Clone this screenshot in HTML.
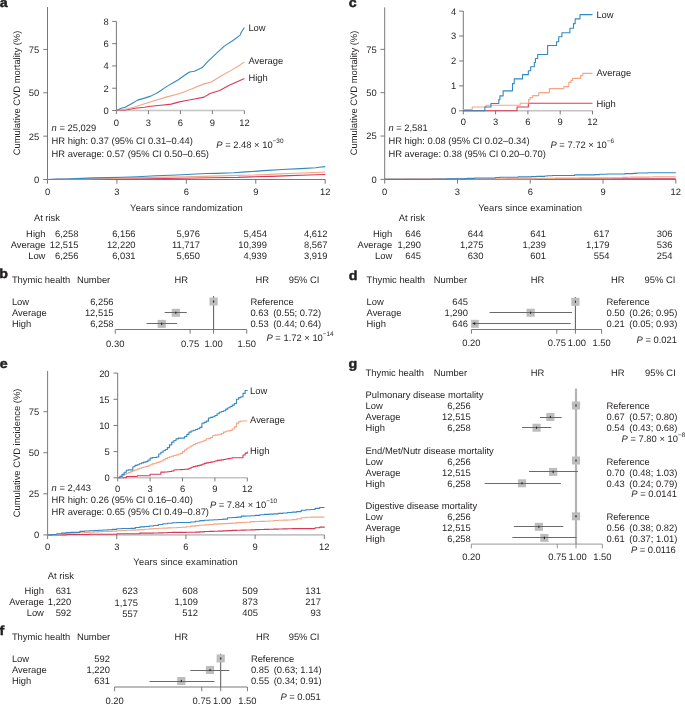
<!DOCTYPE html>
<html><head><meta charset="utf-8"><style>
html,body{margin:0;padding:0;background:#fff;}
svg{display:block;will-change:transform;}
text{white-space:pre;text-rendering:geometricPrecision;font-family:"Liberation Sans",sans-serif;font-size:9.4px;fill:#231f20;}
</style></head><body>
<svg width="685" height="705" viewBox="0 0 685 705">
<text transform="translate(-0.30,7.20) scale(1.08,1)" font-weight="bold" style="font-size:13.2px;stroke:#231f20;stroke-width:0.45px">a</text>
<line x1="47.50" y1="7.00" x2="47.50" y2="179.50" stroke="#6a6a6a" stroke-width="0.9"/>
<line x1="47.50" y1="179.50" x2="325.20" y2="179.50" stroke="#6a6a6a" stroke-width="0.9"/>
<line x1="43.30" y1="179.50" x2="47.50" y2="179.50" stroke="#6a6a6a" stroke-width="0.9"/>
<text x="39.20" y="182.90" text-anchor="end">0</text>
<line x1="43.30" y1="136.15" x2="47.50" y2="136.15" stroke="#6a6a6a" stroke-width="0.9"/>
<text x="39.20" y="139.55" text-anchor="end">25</text>
<line x1="43.30" y1="92.80" x2="47.50" y2="92.80" stroke="#6a6a6a" stroke-width="0.9"/>
<text x="39.20" y="96.20" text-anchor="end">50</text>
<line x1="43.30" y1="49.45" x2="47.50" y2="49.45" stroke="#6a6a6a" stroke-width="0.9"/>
<text x="39.20" y="52.85" text-anchor="end">75</text>
<line x1="47.50" y1="179.50" x2="47.50" y2="183.70" stroke="#6a6a6a" stroke-width="0.9"/>
<text x="47.50" y="195.00" text-anchor="middle">0</text>
<line x1="116.92" y1="179.50" x2="116.92" y2="183.70" stroke="#6a6a6a" stroke-width="0.9"/>
<text x="116.92" y="195.00" text-anchor="middle">3</text>
<line x1="186.35" y1="179.50" x2="186.35" y2="183.70" stroke="#6a6a6a" stroke-width="0.9"/>
<text x="186.35" y="195.00" text-anchor="middle">6</text>
<line x1="255.77" y1="179.50" x2="255.77" y2="183.70" stroke="#6a6a6a" stroke-width="0.9"/>
<text x="255.77" y="195.00" text-anchor="middle">9</text>
<line x1="325.20" y1="179.50" x2="325.20" y2="183.70" stroke="#6a6a6a" stroke-width="0.9"/>
<text x="325.20" y="195.00" text-anchor="middle">12</text>
<text x="0" y="0" text-anchor="middle" transform="translate(20.30,93.00) rotate(-90)">Cumulative CVD mortality (%)</text>
<text x="186.40" y="211.00" text-anchor="middle" textLength="112.6" lengthAdjust="spacing">Years since randomization</text>
<line x1="116.40" y1="110.50" x2="244.40" y2="110.50" stroke="#c4c4c4" stroke-width="1.6"/>
<line x1="116.40" y1="21.40" x2="116.40" y2="110.50" stroke="#6a6a6a" stroke-width="0.9"/>
<line x1="112.20" y1="110.50" x2="116.40" y2="110.50" stroke="#6a6a6a" stroke-width="0.9"/>
<text x="108.70" y="113.90" text-anchor="end">0</text>
<line x1="112.20" y1="88.22" x2="116.40" y2="88.22" stroke="#6a6a6a" stroke-width="0.9"/>
<text x="108.70" y="91.62" text-anchor="end">2</text>
<line x1="112.20" y1="65.94" x2="116.40" y2="65.94" stroke="#6a6a6a" stroke-width="0.9"/>
<text x="108.70" y="69.34" text-anchor="end">4</text>
<line x1="112.20" y1="43.66" x2="116.40" y2="43.66" stroke="#6a6a6a" stroke-width="0.9"/>
<text x="108.70" y="47.06" text-anchor="end">6</text>
<line x1="112.20" y1="21.38" x2="116.40" y2="21.38" stroke="#6a6a6a" stroke-width="0.9"/>
<text x="108.70" y="24.78" text-anchor="end">8</text>
<line x1="116.40" y1="110.50" x2="116.40" y2="114.10" stroke="#6a6a6a" stroke-width="0.9"/>
<text x="116.40" y="126.00" text-anchor="middle">0</text>
<line x1="148.40" y1="110.50" x2="148.40" y2="114.10" stroke="#6a6a6a" stroke-width="0.9"/>
<text x="148.40" y="126.00" text-anchor="middle">3</text>
<line x1="180.40" y1="110.50" x2="180.40" y2="114.10" stroke="#6a6a6a" stroke-width="0.9"/>
<text x="180.40" y="126.00" text-anchor="middle">6</text>
<line x1="212.40" y1="110.50" x2="212.40" y2="114.10" stroke="#6a6a6a" stroke-width="0.9"/>
<text x="212.40" y="126.00" text-anchor="middle">9</text>
<line x1="244.40" y1="110.50" x2="244.40" y2="114.10" stroke="#6a6a6a" stroke-width="0.9"/>
<text x="244.40" y="126.00" text-anchor="middle">12</text>
<path d="M47.50,179.50 L66.71,179.41 L88.69,179.15 L108.59,179.00 L122.02,178.84 L144.23,178.69 L166.45,178.51 L181.95,178.20 L196.30,177.97 L211.57,177.78 L237.72,177.42 L250.68,176.85 L271.74,176.38 L290.02,175.63 L308.31,175.06 L325.20,174.51" fill="none" stroke="#d63a58" stroke-width="1.1" stroke-linejoin="round"/>
<path d="M116.40,110.50 L125.25,109.94 L135.39,108.27 L144.56,107.27 L150.75,106.27 L160.99,105.26 L171.23,104.15 L178.37,102.14 L184.99,100.70 L192.03,99.47 L204.08,97.13 L210.05,93.46 L219.76,90.45 L228.19,85.66 L236.61,81.98 L244.40,78.42" fill="none" stroke="#d63a58" stroke-width="1.1" stroke-linejoin="round"/>
<path d="M47.50,179.50 L68.33,179.29 L88.69,178.93 L122.02,178.13 L155.34,177.42 L185.42,176.85 L211.57,176.10 L237.72,175.36 L253.46,175.06 L274.52,174.12 L295.35,173.29 L314.79,172.44 L325.20,171.94" fill="none" stroke="#f4a582" stroke-width="1.1" stroke-linejoin="round"/>
<path d="M116.40,110.50 L126.00,109.16 L135.39,106.82 L150.75,101.70 L166.11,97.13 L179.97,93.46 L192.03,88.67 L204.08,83.88 L211.33,81.98 L221.04,75.97 L230.64,70.62 L239.60,65.16 L244.40,61.93" fill="none" stroke="#f4a582" stroke-width="1.1" stroke-linejoin="round"/>
<path d="M47.50,179.50 L57.68,179.15 L66.71,179.00 L82.21,178.36 L93.32,177.89 L108.59,177.58 L122.02,177.26 L137.52,176.69 L155.34,175.82 L170.61,175.18 L181.95,174.71 L196.30,173.99 L206.25,173.50 L216.90,173.38 L233.79,172.82 L245.59,171.89 L263.87,170.66 L282.16,169.44 L300.44,168.61 L315.94,167.76 L318.72,167.28 L325.20,166.58" fill="none" stroke="#3388c2" stroke-width="1.1" stroke-linejoin="round"/>
<path d="M116.40,110.50 L121.09,108.27 L125.25,107.27 L132.40,103.15 L137.52,100.14 L144.56,98.13 L150.75,96.13 L157.89,92.45 L166.11,86.88 L173.15,82.76 L178.37,79.75 L184.99,75.07 L189.57,71.96 L194.48,71.18 L202.27,67.61 L207.71,61.60 L216.13,53.69 L224.56,45.89 L232.99,40.54 L240.13,35.08 L241.41,31.96 L244.40,27.51" fill="none" stroke="#3388c2" stroke-width="1.1" stroke-linejoin="round"/>
<text x="248.40" y="31.00">Low</text>
<text x="248.40" y="64.00">Average</text>
<text x="248.40" y="81.00">High</text>
<text x="51.60" y="131.00"><tspan font-style="italic">n</tspan> = 25,029</text>
<text x="51.60" y="144.00">HR high: 0.37 (95% CI 0.31–0.44)</text>
<text x="51.60" y="157.00">HR average: 0.57 (95% CI 0.50–0.65)</text>
<text x="216.30" y="148.00"><tspan font-style="italic">P</tspan> = 2.48 × 10<tspan dy="-4.6" font-size="6.4">−30</tspan></text>
<text x="33.90" y="221.00">At risk</text>
<text x="45.40" y="237.00" text-anchor="end">High</text>
<text x="78.40" y="237.00" text-anchor="end">6,258</text>
<text x="135.60" y="237.00" text-anchor="end">6,156</text>
<text x="200.00" y="237.00" text-anchor="end">5,976</text>
<text x="267.00" y="237.00" text-anchor="end">5,454</text>
<text x="327.50" y="237.00" text-anchor="end">4,612</text>
<text x="45.40" y="248.00" text-anchor="end">Average</text>
<text x="78.40" y="248.00" text-anchor="end">12,515</text>
<text x="135.60" y="248.00" text-anchor="end">12,220</text>
<text x="200.00" y="248.00" text-anchor="end">11,717</text>
<text x="267.00" y="248.00" text-anchor="end">10,399</text>
<text x="327.50" y="248.00" text-anchor="end">8,567</text>
<text x="45.40" y="259.00" text-anchor="end">Low</text>
<text x="78.40" y="259.00" text-anchor="end">6,256</text>
<text x="135.60" y="259.00" text-anchor="end">6,031</text>
<text x="200.00" y="259.00" text-anchor="end">5,650</text>
<text x="267.00" y="259.00" text-anchor="end">4,939</text>
<text x="327.50" y="259.00" text-anchor="end">3,919</text>
<text transform="translate(348.80,6.80) scale(1.08,1)" font-weight="bold" style="font-size:13.2px;stroke:#231f20;stroke-width:0.45px">c</text>
<line x1="384.70" y1="7.40" x2="384.70" y2="179.40" stroke="#6a6a6a" stroke-width="0.9"/>
<line x1="384.70" y1="179.40" x2="675.80" y2="179.40" stroke="#6a6a6a" stroke-width="0.9"/>
<line x1="380.50" y1="179.40" x2="384.70" y2="179.40" stroke="#6a6a6a" stroke-width="0.9"/>
<text x="376.80" y="182.80" text-anchor="end">0</text>
<line x1="380.50" y1="136.05" x2="384.70" y2="136.05" stroke="#6a6a6a" stroke-width="0.9"/>
<text x="376.80" y="139.45" text-anchor="end">25</text>
<line x1="380.50" y1="92.70" x2="384.70" y2="92.70" stroke="#6a6a6a" stroke-width="0.9"/>
<text x="376.80" y="96.10" text-anchor="end">50</text>
<line x1="380.50" y1="49.35" x2="384.70" y2="49.35" stroke="#6a6a6a" stroke-width="0.9"/>
<text x="376.80" y="52.75" text-anchor="end">75</text>
<line x1="384.70" y1="179.40" x2="384.70" y2="183.60" stroke="#6a6a6a" stroke-width="0.9"/>
<text x="384.70" y="195.00" text-anchor="middle">0</text>
<line x1="457.47" y1="179.40" x2="457.47" y2="183.60" stroke="#6a6a6a" stroke-width="0.9"/>
<text x="457.47" y="195.00" text-anchor="middle">3</text>
<line x1="530.25" y1="179.40" x2="530.25" y2="183.60" stroke="#6a6a6a" stroke-width="0.9"/>
<text x="530.25" y="195.00" text-anchor="middle">6</text>
<line x1="603.02" y1="179.40" x2="603.02" y2="183.60" stroke="#6a6a6a" stroke-width="0.9"/>
<text x="603.02" y="195.00" text-anchor="middle">9</text>
<line x1="675.80" y1="179.40" x2="675.80" y2="183.60" stroke="#6a6a6a" stroke-width="0.9"/>
<text x="675.80" y="195.00" text-anchor="middle">12</text>
<text x="0" y="0" text-anchor="middle" transform="translate(356.60,93.00) rotate(-90)">Cumulative CVD mortality (%)</text>
<text x="530.10" y="211.00" text-anchor="middle" textLength="103.7" lengthAdjust="spacing">Years since examination</text>
<line x1="463.30" y1="110.80" x2="592.50" y2="110.80" stroke="#c4c4c4" stroke-width="1.6"/>
<line x1="463.30" y1="11.00" x2="463.30" y2="110.80" stroke="#6a6a6a" stroke-width="0.9"/>
<line x1="459.10" y1="110.80" x2="463.30" y2="110.80" stroke="#6a6a6a" stroke-width="0.9"/>
<text x="456.30" y="114.20" text-anchor="end">0</text>
<line x1="459.10" y1="85.88" x2="463.30" y2="85.88" stroke="#6a6a6a" stroke-width="0.9"/>
<text x="456.30" y="89.28" text-anchor="end">1</text>
<line x1="459.10" y1="60.96" x2="463.30" y2="60.96" stroke="#6a6a6a" stroke-width="0.9"/>
<text x="456.30" y="64.36" text-anchor="end">2</text>
<line x1="459.10" y1="36.04" x2="463.30" y2="36.04" stroke="#6a6a6a" stroke-width="0.9"/>
<text x="456.30" y="39.44" text-anchor="end">3</text>
<line x1="459.10" y1="11.12" x2="463.30" y2="11.12" stroke="#6a6a6a" stroke-width="0.9"/>
<text x="456.30" y="14.52" text-anchor="end">4</text>
<line x1="463.30" y1="110.80" x2="463.30" y2="114.40" stroke="#6a6a6a" stroke-width="0.9"/>
<text x="463.30" y="124.80" text-anchor="middle">0</text>
<line x1="495.60" y1="110.80" x2="495.60" y2="114.40" stroke="#6a6a6a" stroke-width="0.9"/>
<text x="495.60" y="124.80" text-anchor="middle">3</text>
<line x1="527.90" y1="110.80" x2="527.90" y2="114.40" stroke="#6a6a6a" stroke-width="0.9"/>
<text x="527.90" y="124.80" text-anchor="middle">6</text>
<line x1="560.20" y1="110.80" x2="560.20" y2="114.40" stroke="#6a6a6a" stroke-width="0.9"/>
<text x="560.20" y="124.80" text-anchor="middle">9</text>
<line x1="592.50" y1="110.80" x2="592.50" y2="114.40" stroke="#6a6a6a" stroke-width="0.9"/>
<text x="592.50" y="124.80" text-anchor="middle">12</text>
<path d="M384.70,179.40 L505.75,179.40 L505.75,179.14 L531.22,179.14 L531.22,178.88 L675.80,178.88" fill="none" stroke="#d63a58" stroke-width="1.1" stroke-linejoin="round"/>
<path d="M463.30,110.80 L517.03,110.80 L517.03,107.06 L528.33,107.06 L528.33,103.32 L592.50,103.32" fill="none" stroke="#d63a58" stroke-width="1.1" stroke-linejoin="round"/>
<path d="M384.70,179.31 L404.83,179.31 L404.83,179.14 L436.37,179.14 L436.37,179.02 L512.78,179.02 L512.78,178.88 L531.71,178.88 L531.71,178.62 L535.10,178.62 L535.10,178.48 L540.92,178.48 L540.92,178.34 L554.75,178.34 L554.75,178.13 L578.77,178.13 L578.77,177.86 L611.03,177.86 L611.03,177.72 L622.43,177.72 L622.43,177.42 L627.28,177.42 L627.28,177.28 L630.68,177.28 L630.68,177.15 L649.12,177.15 L649.12,176.96 L653.72,176.96 L653.72,176.80 L675.80,176.80" fill="none" stroke="#f4a582" stroke-width="1.1" stroke-linejoin="round"/>
<path d="M463.30,109.55 L472.24,109.55 L472.24,107.06 L486.23,107.06 L486.23,105.32 L520.15,105.32 L520.15,103.32 L528.55,103.32 L528.55,99.59 L530.05,99.59 L530.05,97.59 L532.64,97.59 L532.64,95.60 L538.77,95.60 L538.77,92.61 L549.43,92.61 L549.43,88.62 L563.75,88.62 L563.75,86.63 L568.81,86.63 L568.81,82.39 L570.97,82.39 L570.97,80.40 L572.47,80.40 L572.47,78.40 L580.66,78.40 L580.66,75.66 L582.70,75.66 L582.70,73.42 L592.50,73.42" fill="none" stroke="#f4a582" stroke-width="1.1" stroke-linejoin="round"/>
<path d="M384.70,179.40 L433.22,179.40 L433.22,179.14 L447.04,179.14 L447.04,178.90 L464.75,178.90 L464.75,178.62 L467.18,178.62 L467.18,178.36 L474.46,178.36 L474.46,178.01 L495.56,178.01 L495.56,177.51 L499.44,177.51 L499.44,177.18 L518.12,177.18 L518.12,176.89 L531.22,176.89 L531.22,176.61 L536.56,176.61 L536.56,176.33 L544.80,176.33 L544.80,176.04 L547.23,176.04 L547.23,175.76 L552.33,175.76 L552.33,175.48 L574.64,175.48 L574.64,174.86 L594.78,174.86 L594.78,174.60 L599.63,174.60 L599.63,174.25 L606.91,174.25 L606.91,173.97 L624.86,173.97 L624.86,173.66 L633.11,173.66 L633.11,173.33 L636.74,173.33 L636.74,173.00 L647.66,173.00 L647.66,172.71 L675.80,172.71" fill="none" stroke="#3388c2" stroke-width="1.1" stroke-linejoin="round"/>
<path d="M463.30,110.80 L484.83,110.80 L484.83,107.06 L490.97,107.06 L490.97,103.57 L498.83,103.57 L498.83,99.59 L499.91,99.59 L499.91,95.85 L503.14,95.85 L503.14,90.86 L512.50,90.86 L512.50,83.64 L514.23,83.64 L514.23,78.90 L522.52,78.90 L522.52,74.67 L528.33,74.67 L528.33,70.68 L530.70,70.68 L530.70,66.69 L534.36,66.69 L534.36,62.46 L535.44,62.46 L535.44,58.47 L537.70,58.47 L537.70,54.48 L547.60,54.48 L547.60,45.51 L556.54,45.51 L556.54,41.77 L558.69,41.77 L558.69,36.79 L561.92,36.79 L561.92,32.80 L569.89,32.80 L569.89,28.31 L573.55,28.31 L573.55,23.58 L575.17,23.58 L575.17,18.85 L580.01,18.85 L580.01,14.61 L592.50,14.61" fill="none" stroke="#3388c2" stroke-width="1.1" stroke-linejoin="round"/>
<text x="596.40" y="17.60">Low</text>
<text x="596.40" y="75.60">Average</text>
<text x="596.40" y="106.90">High</text>
<text x="388.40" y="131.00"><tspan font-style="italic">n</tspan> = 2,581</text>
<text x="388.40" y="144.00">HR high: 0.08 (95% CI 0.02–0.34)</text>
<text x="388.40" y="157.00">HR average: 0.38 (95% CI 0.20–0.70)</text>
<text x="550.50" y="148.00"><tspan font-style="italic">P</tspan> = 7.72 × 10<tspan dy="-4.6" font-size="6.4">−6</tspan></text>
<text x="398.80" y="221.00">At risk</text>
<text x="392.30" y="237.00" text-anchor="end">High</text>
<text x="420.90" y="237.00" text-anchor="end">646</text>
<text x="483.50" y="237.00" text-anchor="end">644</text>
<text x="546.00" y="237.00" text-anchor="end">641</text>
<text x="609.50" y="237.00" text-anchor="end">617</text>
<text x="672.50" y="237.00" text-anchor="end">306</text>
<text x="392.30" y="248.00" text-anchor="end">Average</text>
<text x="420.90" y="248.00" text-anchor="end">1,290</text>
<text x="483.50" y="248.00" text-anchor="end">1,275</text>
<text x="546.00" y="248.00" text-anchor="end">1,239</text>
<text x="609.50" y="248.00" text-anchor="end">1,179</text>
<text x="672.50" y="248.00" text-anchor="end">536</text>
<text x="392.30" y="259.00" text-anchor="end">Low</text>
<text x="420.90" y="259.00" text-anchor="end">645</text>
<text x="483.50" y="259.00" text-anchor="end">630</text>
<text x="546.00" y="259.00" text-anchor="end">601</text>
<text x="609.50" y="259.00" text-anchor="end">554</text>
<text x="672.50" y="259.00" text-anchor="end">254</text>
<text transform="translate(-0.30,368.40) scale(1.08,1)" font-weight="bold" style="font-size:13.2px;stroke:#231f20;stroke-width:0.45px">e</text>
<line x1="47.60" y1="371.00" x2="47.60" y2="534.90" stroke="#6a6a6a" stroke-width="0.9"/>
<line x1="47.60" y1="534.90" x2="324.30" y2="534.90" stroke="#c4c4c4" stroke-width="1.6"/>
<line x1="43.40" y1="534.90" x2="47.60" y2="534.90" stroke="#6a6a6a" stroke-width="0.9"/>
<text x="39.20" y="538.30" text-anchor="end">0</text>
<line x1="43.40" y1="493.83" x2="47.60" y2="493.83" stroke="#6a6a6a" stroke-width="0.9"/>
<text x="39.20" y="497.23" text-anchor="end">25</text>
<line x1="43.40" y1="452.76" x2="47.60" y2="452.76" stroke="#6a6a6a" stroke-width="0.9"/>
<text x="39.20" y="456.16" text-anchor="end">50</text>
<line x1="43.40" y1="411.69" x2="47.60" y2="411.69" stroke="#6a6a6a" stroke-width="0.9"/>
<text x="39.20" y="415.09" text-anchor="end">75</text>
<line x1="47.60" y1="534.90" x2="47.60" y2="539.10" stroke="#6a6a6a" stroke-width="0.9"/>
<text x="47.60" y="550.00" text-anchor="middle">0</text>
<line x1="116.78" y1="534.90" x2="116.78" y2="539.10" stroke="#6a6a6a" stroke-width="0.9"/>
<text x="116.78" y="550.00" text-anchor="middle">3</text>
<line x1="185.95" y1="534.90" x2="185.95" y2="539.10" stroke="#6a6a6a" stroke-width="0.9"/>
<text x="185.95" y="550.00" text-anchor="middle">6</text>
<line x1="255.12" y1="534.90" x2="255.12" y2="539.10" stroke="#6a6a6a" stroke-width="0.9"/>
<text x="255.12" y="550.00" text-anchor="middle">9</text>
<line x1="324.30" y1="534.90" x2="324.30" y2="539.10" stroke="#6a6a6a" stroke-width="0.9"/>
<text x="324.30" y="550.00" text-anchor="middle">12</text>
<text x="0" y="0" text-anchor="middle" transform="translate(20.30,453.00) rotate(-90)">Cumulative CVD incidence (%)</text>
<text x="185.50" y="565.00" text-anchor="middle" textLength="104.3" lengthAdjust="spacing">Years since examination</text>
<line x1="117.70" y1="477.80" x2="247.30" y2="477.80" stroke="#c4c4c4" stroke-width="1.6"/>
<line x1="117.70" y1="373.00" x2="117.70" y2="477.80" stroke="#6a6a6a" stroke-width="0.9"/>
<line x1="113.50" y1="477.80" x2="117.70" y2="477.80" stroke="#6a6a6a" stroke-width="0.9"/>
<text x="109.60" y="481.20" text-anchor="end">0</text>
<line x1="113.50" y1="451.62" x2="117.70" y2="451.62" stroke="#6a6a6a" stroke-width="0.9"/>
<text x="109.60" y="455.02" text-anchor="end">5</text>
<line x1="113.50" y1="425.45" x2="117.70" y2="425.45" stroke="#6a6a6a" stroke-width="0.9"/>
<text x="109.60" y="428.85" text-anchor="end">10</text>
<line x1="113.50" y1="399.27" x2="117.70" y2="399.27" stroke="#6a6a6a" stroke-width="0.9"/>
<text x="109.60" y="402.67" text-anchor="end">15</text>
<line x1="113.50" y1="373.10" x2="117.70" y2="373.10" stroke="#6a6a6a" stroke-width="0.9"/>
<text x="109.60" y="376.50" text-anchor="end">20</text>
<line x1="117.70" y1="477.80" x2="117.70" y2="481.40" stroke="#6a6a6a" stroke-width="0.9"/>
<text x="117.70" y="492.00" text-anchor="middle">0</text>
<line x1="150.10" y1="477.80" x2="150.10" y2="481.40" stroke="#6a6a6a" stroke-width="0.9"/>
<text x="150.10" y="492.00" text-anchor="middle">3</text>
<line x1="182.50" y1="477.80" x2="182.50" y2="481.40" stroke="#6a6a6a" stroke-width="0.9"/>
<text x="182.50" y="492.00" text-anchor="middle">6</text>
<line x1="214.90" y1="477.80" x2="214.90" y2="481.40" stroke="#6a6a6a" stroke-width="0.9"/>
<text x="214.90" y="492.00" text-anchor="middle">9</text>
<line x1="247.30" y1="477.80" x2="247.30" y2="481.40" stroke="#6a6a6a" stroke-width="0.9"/>
<text x="247.30" y="492.00" text-anchor="middle">12</text>
<path d="M47.60,534.90 L52.21,534.90 L52.21,534.90 L56.82,534.90 L56.82,534.90 L61.44,534.90 L61.44,534.90 L66.05,534.90 L66.05,534.49 L70.66,534.49 L70.66,534.49 L75.27,534.49 L75.27,534.49 L79.88,534.49 L79.88,534.49 L84.49,534.49 L84.49,534.49 L89.10,534.49 L89.10,534.28 L93.72,534.28 L93.72,534.28 L98.33,534.28 L98.33,534.28 L102.94,534.28 L102.94,534.28 L107.55,534.28 L107.55,534.28 L112.16,534.28 L112.16,534.28 L116.78,534.28 L116.78,533.80 L121.39,533.80 L121.39,533.80 L126.00,533.80 L126.00,533.80 L130.61,533.80 L130.61,533.80 L135.22,533.80 L135.22,533.80 L139.83,533.80 L139.83,533.11 L144.45,533.11 L144.45,533.11 L149.06,533.11 L149.06,533.10 L153.67,533.10 L153.67,533.01 L158.28,533.01 L158.28,532.92 L162.89,532.92 L162.89,532.76 L167.50,532.76 L167.50,532.43 L172.12,532.43 L172.12,532.40 L176.73,532.40 L176.73,532.36 L181.34,532.36 L181.34,532.33 L185.95,532.33 L185.95,532.29 L190.56,532.29 L190.56,532.23 L195.17,532.23 L195.17,532.16 L199.79,532.16 L199.79,531.91 L204.40,531.91 L204.40,531.57 L209.01,531.57 L209.01,531.39 L213.62,531.39 L213.62,531.24 L218.23,531.24 L218.23,531.09 L222.84,531.09 L222.84,530.92 L227.46,530.92 L227.46,530.64 L232.07,530.64 L232.07,530.37 L236.68,530.37 L236.68,530.20 L241.29,530.20 L241.29,530.09 L245.90,530.09 L245.90,529.98 L250.51,529.98 L250.51,529.86 L255.12,529.86 L255.12,529.62 L259.74,529.62 L259.74,529.43 L264.35,529.43 L264.35,529.35 L268.96,529.35 L268.96,529.26 L273.57,529.26 L273.57,529.15 L278.18,529.15 L278.18,529.02 L282.79,529.02 L282.79,528.89 L287.41,528.89 L287.41,528.76 L292.02,528.76 L292.02,528.63 L296.63,528.63 L296.63,528.62 L301.24,528.62 L301.24,528.62 L305.85,528.62 L305.85,528.62 L310.46,528.62 L310.46,528.62 L315.08,528.62 L315.08,527.76 L319.69,527.76 L319.69,527.16 L324.30,527.16 L324.30,526.65" fill="none" stroke="#d63a58" stroke-width="1.1" stroke-linejoin="round"/>
<path d="M117.70,477.80 L119.86,477.80 L119.86,477.80 L122.02,477.80 L122.02,477.80 L124.18,477.80 L124.18,477.80 L126.34,477.80 L126.34,476.49 L128.50,476.49 L128.50,476.49 L130.66,476.49 L130.66,476.49 L132.82,476.49 L132.82,476.49 L134.98,476.49 L134.98,476.49 L137.14,476.49 L137.14,475.81 L139.30,475.81 L139.30,475.81 L141.46,475.81 L141.46,475.81 L143.62,475.81 L143.62,475.81 L145.78,475.81 L145.78,475.81 L147.94,475.81 L147.94,475.81 L150.10,475.81 L150.10,474.29 L152.26,474.29 L152.26,474.29 L154.42,474.29 L154.42,474.29 L156.58,474.29 L156.58,474.29 L158.74,474.29 L158.74,474.29 L160.90,474.29 L160.90,472.09 L163.06,472.09 L163.06,472.09 L165.22,472.09 L165.22,472.06 L167.38,472.06 L167.38,471.78 L169.54,471.78 L169.54,471.49 L171.70,471.49 L171.70,470.99 L173.86,470.99 L173.86,469.93 L176.02,469.93 L176.02,469.82 L178.18,469.82 L178.18,469.72 L180.34,469.72 L180.34,469.62 L182.50,469.62 L182.50,469.50 L184.66,469.50 L184.66,469.29 L186.82,469.29 L186.82,469.08 L188.98,469.08 L188.98,468.29 L191.14,468.29 L191.14,467.18 L193.30,467.18 L193.30,466.61 L195.46,466.61 L195.46,466.14 L197.62,466.14 L197.62,465.67 L199.78,465.67 L199.78,465.11 L201.94,465.11 L201.94,464.23 L204.10,464.23 L204.10,463.35 L206.26,463.35 L206.26,462.84 L208.42,462.84 L208.42,462.48 L210.58,462.48 L210.58,462.12 L212.74,462.12 L212.74,461.74 L214.90,461.74 L214.90,460.99 L217.06,460.99 L217.06,460.36 L219.22,460.36 L219.22,460.10 L221.38,460.10 L221.38,459.84 L223.54,459.84 L223.54,459.46 L225.70,459.46 L225.70,459.05 L227.86,459.05 L227.86,458.64 L230.02,458.64 L230.02,458.23 L232.18,458.23 L232.18,457.82 L234.34,457.82 L234.34,457.80 L236.50,457.80 L236.50,457.80 L238.66,457.80 L238.66,457.80 L240.82,457.80 L240.82,457.80 L242.98,457.80 L242.98,455.04 L245.14,455.04 L245.14,453.15 L247.30,453.15 L247.30,451.52" fill="none" stroke="#d63a58" stroke-width="1.1" stroke-linejoin="round"/>
<path d="M47.60,534.90 L52.21,534.90 L52.21,534.65 L56.82,534.65 L56.82,534.18 L61.44,534.18 L61.44,533.75 L66.05,533.75 L66.05,533.49 L70.66,533.49 L70.66,533.24 L75.27,533.24 L75.27,532.98 L79.88,532.98 L79.88,532.71 L84.49,532.71 L84.49,532.44 L89.10,532.44 L89.10,532.18 L93.72,532.18 L93.72,531.89 L98.33,531.89 L98.33,531.66 L102.94,531.66 L102.94,531.49 L107.55,531.49 L107.55,531.33 L112.16,531.33 L112.16,531.15 L116.78,531.15 L116.78,530.82 L121.39,530.82 L121.39,530.52 L126.00,530.52 L126.00,530.32 L130.61,530.32 L130.61,530.12 L135.22,530.12 L135.22,529.92 L139.83,529.92 L139.83,529.64 L144.45,529.64 L144.45,529.27 L149.06,529.27 L149.06,528.89 L153.67,528.89 L153.67,528.52 L158.28,528.52 L158.28,528.28 L162.89,528.28 L162.89,528.10 L167.50,528.10 L167.50,527.91 L172.12,527.91 L172.12,527.72 L176.73,527.72 L176.73,527.53 L181.34,527.53 L181.34,527.23 L185.95,527.23 L185.95,526.69 L190.56,526.69 L190.56,526.14 L195.17,526.14 L195.17,525.63 L199.79,525.63 L199.79,525.24 L204.40,525.24 L204.40,524.84 L209.01,524.84 L209.01,524.45 L213.62,524.45 L213.62,524.14 L218.23,524.14 L218.23,523.90 L222.84,523.90 L222.84,523.66 L227.46,523.66 L227.46,523.42 L232.07,523.42 L232.07,523.10 L236.68,523.10 L236.68,522.65 L241.29,522.65 L241.29,522.53 L245.90,522.53 L245.90,522.25 L250.51,522.25 L250.51,521.62 L255.12,521.62 L255.12,521.51 L259.74,521.51 L259.74,521.39 L264.35,521.39 L264.35,521.28 L268.96,521.28 L268.96,521.01 L273.57,521.01 L273.57,520.56 L278.18,520.56 L278.18,520.30 L282.79,520.30 L282.79,520.16 L287.41,520.16 L287.41,520.03 L292.02,520.03 L292.02,519.59 L296.63,519.59 L296.63,518.91 L301.24,518.91 L301.24,517.75 L305.85,517.75 L305.85,517.27 L310.46,517.27 L310.46,517.08 L315.08,517.08 L315.08,517.08 L319.69,517.08 L319.69,517.08 L324.30,517.08 L324.30,517.08" fill="none" stroke="#f4a582" stroke-width="1.1" stroke-linejoin="round"/>
<path d="M117.70,477.80 L119.86,477.80 L119.86,476.99 L122.02,476.99 L122.02,475.49 L124.18,475.49 L124.18,474.13 L126.34,474.13 L126.34,473.32 L128.50,473.32 L128.50,472.50 L130.66,472.50 L130.66,471.67 L132.82,471.67 L132.82,470.82 L134.98,470.82 L134.98,469.98 L137.14,469.98 L137.14,469.12 L139.30,469.12 L139.30,468.20 L141.46,468.20 L141.46,467.46 L143.62,467.46 L143.62,466.94 L145.78,466.94 L145.78,466.41 L147.94,466.41 L147.94,465.86 L150.10,465.86 L150.10,464.78 L152.26,464.78 L152.26,463.86 L154.42,463.86 L154.42,463.21 L156.58,463.21 L156.58,462.56 L158.74,462.56 L158.74,461.92 L160.90,461.92 L160.90,461.05 L163.06,461.05 L163.06,459.86 L165.22,459.86 L165.22,458.66 L167.38,458.66 L167.38,457.47 L169.54,457.47 L169.54,456.72 L171.70,456.72 L171.70,456.12 L173.86,456.12 L173.86,455.51 L176.02,455.51 L176.02,454.90 L178.18,454.90 L178.18,454.30 L180.34,454.30 L180.34,453.36 L182.50,453.36 L182.50,451.62 L184.66,451.62 L184.66,449.89 L186.82,449.89 L186.82,448.27 L188.98,448.27 L188.98,447.01 L191.14,447.01 L191.14,445.75 L193.30,445.75 L193.30,444.49 L195.46,444.49 L195.46,443.52 L197.62,443.52 L197.62,442.75 L199.78,442.75 L199.78,441.99 L201.94,441.99 L201.94,441.22 L204.10,441.22 L204.10,440.21 L206.26,440.21 L206.26,438.76 L208.42,438.76 L208.42,438.38 L210.58,438.38 L210.58,437.49 L212.74,437.49 L212.74,435.48 L214.90,435.48 L214.90,435.12 L217.06,435.12 L217.06,434.76 L219.22,434.76 L219.22,434.39 L221.38,434.39 L221.38,433.54 L223.54,433.54 L223.54,432.10 L225.70,432.10 L225.70,431.27 L227.86,431.27 L227.86,430.84 L230.02,430.84 L230.02,430.41 L232.18,430.41 L232.18,429.01 L234.34,429.01 L234.34,426.83 L236.50,426.83 L236.50,423.15 L238.66,423.15 L238.66,421.61 L240.82,421.61 L240.82,421.00 L242.98,421.00 L242.98,421.00 L245.14,421.00 L245.14,421.00 L247.30,421.00 L247.30,421.00" fill="none" stroke="#f4a582" stroke-width="1.1" stroke-linejoin="round"/>
<path d="M47.60,534.90 L52.21,534.90 L52.21,534.46 L56.82,534.46 L56.82,533.81 L61.44,533.81 L61.44,533.16 L66.05,533.16 L66.05,532.52 L70.66,532.52 L70.66,532.42 L75.27,532.42 L75.27,532.42 L79.88,532.42 L79.88,531.42 L84.49,531.42 L84.49,531.01 L89.10,531.01 L89.10,530.80 L93.72,530.80 L93.72,530.50 L98.33,530.50 L98.33,530.21 L102.94,530.21 L102.94,529.98 L107.55,529.98 L107.55,529.82 L112.16,529.82 L112.16,529.35 L116.78,529.35 L116.78,528.74 L121.39,528.74 L121.39,528.53 L126.00,528.53 L126.00,528.53 L130.61,528.53 L130.61,528.38 L135.22,528.38 L135.22,527.44 L139.83,527.44 L139.83,526.90 L144.45,526.90 L144.45,526.43 L149.06,526.43 L149.06,526.01 L153.67,526.01 L153.67,525.43 L158.28,525.43 L158.28,524.57 L162.89,524.57 L162.89,523.71 L167.50,523.71 L167.50,523.19 L172.12,523.19 L172.12,522.70 L176.73,522.70 L176.73,522.45 L181.34,522.45 L181.34,522.45 L185.95,522.45 L185.95,522.45 L190.56,522.45 L190.56,521.94 L195.17,521.94 L195.17,521.26 L199.79,521.26 L199.79,520.58 L204.40,520.58 L204.40,520.22 L209.01,520.22 L209.01,519.99 L213.62,519.99 L213.62,519.76 L218.23,519.76 L218.23,519.53 L222.84,519.53 L222.84,519.08 L227.46,519.08 L227.46,517.77 L232.07,517.77 L232.07,517.50 L236.68,517.50 L236.68,517.13 L241.29,517.13 L241.29,516.15 L245.90,516.15 L245.90,515.95 L250.51,515.95 L250.51,515.74 L255.12,515.74 L255.12,515.37 L259.74,515.37 L259.74,514.79 L264.35,514.79 L264.35,514.33 L268.96,514.33 L268.96,514.10 L273.57,514.10 L273.57,513.87 L278.18,513.87 L278.18,513.36 L282.79,513.36 L282.79,512.94 L287.41,512.94 L287.41,512.52 L292.02,512.52 L292.02,512.10 L296.63,512.10 L296.63,511.60 L301.24,511.60 L301.24,510.25 L305.85,510.25 L305.85,509.74 L310.46,509.74 L310.46,509.44 L315.08,509.44 L315.08,508.41 L319.69,508.41 L319.69,507.48 L324.30,507.48 L324.30,507.40" fill="none" stroke="#3388c2" stroke-width="1.1" stroke-linejoin="round"/>
<path d="M117.70,477.80 L119.86,477.80 L119.86,476.40 L122.02,476.40 L122.02,474.33 L124.18,474.33 L124.18,472.27 L126.34,472.27 L126.34,470.20 L128.50,470.20 L128.50,469.90 L130.66,469.90 L130.66,469.90 L132.82,469.90 L132.82,466.71 L134.98,466.71 L134.98,465.40 L137.14,465.40 L137.14,464.72 L139.30,464.72 L139.30,463.79 L141.46,463.79 L141.46,462.86 L143.62,462.86 L143.62,462.11 L145.78,462.11 L145.78,461.61 L147.94,461.61 L147.94,460.11 L150.10,460.11 L150.10,458.17 L152.26,458.17 L152.26,457.49 L154.42,457.49 L154.42,457.49 L156.58,457.49 L156.58,457.04 L158.74,457.04 L158.74,454.03 L160.90,454.03 L160.90,452.29 L163.06,452.29 L163.06,450.82 L165.22,450.82 L165.22,449.47 L167.38,449.47 L167.38,447.63 L169.54,447.63 L169.54,444.88 L171.70,444.88 L171.70,442.13 L173.86,442.13 L173.86,440.49 L176.02,440.49 L176.02,438.91 L178.18,438.91 L178.18,438.12 L180.34,438.12 L180.34,438.12 L182.50,438.12 L182.50,438.12 L184.66,438.12 L184.66,436.50 L186.82,436.50 L186.82,434.33 L188.98,434.33 L188.98,432.17 L191.14,432.17 L191.14,431.01 L193.30,431.01 L193.30,430.28 L195.46,430.28 L195.46,429.54 L197.62,429.54 L197.62,428.81 L199.78,428.81 L199.78,427.39 L201.94,427.39 L201.94,423.20 L204.10,423.20 L204.10,422.34 L206.26,422.34 L206.26,421.17 L208.42,421.17 L208.42,418.06 L210.58,418.06 L210.58,417.40 L212.74,417.40 L212.74,416.75 L214.90,416.75 L214.90,415.56 L217.06,415.56 L217.06,413.72 L219.22,413.72 L219.22,412.26 L221.38,412.26 L221.38,411.52 L223.54,411.52 L223.54,410.77 L225.70,410.77 L225.70,409.17 L227.86,409.17 L227.86,407.82 L230.02,407.82 L230.02,406.48 L232.18,406.48 L232.18,405.14 L234.34,405.14 L234.34,403.55 L236.50,403.55 L236.50,399.23 L238.66,399.23 L238.66,397.63 L240.82,397.63 L240.82,396.68 L242.98,396.68 L242.98,393.39 L245.14,393.39 L245.14,390.44 L247.30,390.44 L247.30,390.17" fill="none" stroke="#3388c2" stroke-width="1.1" stroke-linejoin="round"/>
<text x="250.10" y="394.00">Low</text>
<text x="250.10" y="423.00">Average</text>
<text x="250.10" y="454.00">High</text>
<text x="51.60" y="490.60"><tspan font-style="italic">n</tspan> = 2,443</text>
<text x="51.60" y="502.70">HR high: 0.26 (95% CI 0.16–0.40)</text>
<text x="51.60" y="514.90">HR average: 0.65 (95% CI 0.49–0.87)</text>
<text x="209.90" y="508.00"><tspan font-style="italic">P</tspan> = 7.84 × 10<tspan dy="-4.6" font-size="6.4">−10</tspan></text>
<text x="47.80" y="579.00">At risk</text>
<text x="43.90" y="594.00" text-anchor="end">High</text>
<text x="71.30" y="594.00" text-anchor="end">631</text>
<text x="138.00" y="594.00" text-anchor="end">623</text>
<text x="198.00" y="594.00" text-anchor="end">608</text>
<text x="258.00" y="594.00" text-anchor="end">509</text>
<text x="321.00" y="594.00" text-anchor="end">131</text>
<text x="43.90" y="605.00" text-anchor="end">Average</text>
<text x="71.30" y="605.00" text-anchor="end">1,220</text>
<text x="138.00" y="606.00" text-anchor="end">1,175</text>
<text x="198.00" y="605.00" text-anchor="end">1,109</text>
<text x="258.00" y="605.00" text-anchor="end">873</text>
<text x="321.00" y="605.00" text-anchor="end">217</text>
<text x="43.90" y="616.00" text-anchor="end">Low</text>
<text x="71.30" y="616.00" text-anchor="end">592</text>
<text x="138.00" y="617.00" text-anchor="end">557</text>
<text x="198.00" y="616.00" text-anchor="end">512</text>
<text x="258.00" y="616.00" text-anchor="end">405</text>
<text x="321.00" y="616.00" text-anchor="end">93</text>
<text transform="translate(-0.70,278.20) scale(1.08,1)" font-weight="bold" style="font-size:13.2px;stroke:#231f20;stroke-width:0.45px">b</text>
<text x="11.90" y="283.00">Thymic health</text>
<text x="76.90" y="283.00">Number</text>
<text x="174.40" y="283.00">HR</text>
<text x="255.40" y="283.00">HR</text>
<text x="288.70" y="283.00">95% CI</text>
<text x="11.90" y="305.00">Low</text>
<text x="113.60" y="305.00" text-anchor="end">6,256</text>
<text x="11.90" y="316.00">Average</text>
<text x="113.60" y="316.00" text-anchor="end">12,515</text>
<text x="11.90" y="327.00">High</text>
<text x="113.60" y="327.00" text-anchor="end">6,258</text>
<line x1="213.60" y1="296.00" x2="213.60" y2="329.50" stroke="#444" stroke-width="0.9"/>
<rect x="209.50" y="297.50" width="8.20" height="8.00" fill="#bdbdbd"/>
<ellipse cx="213.60" cy="301.50" rx="0.6" ry="1.3" fill="#222"/>
<rect x="171.75" y="308.80" width="8.20" height="8.00" fill="#bdbdbd"/>
<line x1="164.76" y1="312.50" x2="186.76" y2="312.50" stroke="#6a6a6a" stroke-width="1.0"/>
<ellipse cx="175.85" cy="312.80" rx="0.6" ry="1.3" fill="#222"/>
<rect x="157.63" y="319.90" width="8.20" height="8.00" fill="#bdbdbd"/>
<line x1="146.53" y1="323.50" x2="177.14" y2="323.50" stroke="#6a6a6a" stroke-width="1.0"/>
<ellipse cx="161.73" cy="323.90" rx="0.6" ry="1.3" fill="#222"/>
<line x1="115.40" y1="329.50" x2="246.73" y2="329.50" stroke="#6a6a6a" stroke-width="0.9"/>
<line x1="115.24" y1="329.50" x2="115.24" y2="333.70" stroke="#6a6a6a" stroke-width="0.9"/>
<text x="115.24" y="347.00" text-anchor="middle">0.30</text>
<line x1="190.10" y1="329.50" x2="190.10" y2="333.70" stroke="#6a6a6a" stroke-width="0.9"/>
<text x="190.10" y="347.00" text-anchor="middle">0.75</text>
<line x1="213.60" y1="329.50" x2="213.60" y2="333.70" stroke="#6a6a6a" stroke-width="0.9"/>
<text x="213.60" y="347.00" text-anchor="middle">1.00</text>
<line x1="246.73" y1="329.50" x2="246.73" y2="333.70" stroke="#6a6a6a" stroke-width="0.9"/>
<text x="246.73" y="347.00" text-anchor="middle">1.50</text>
<text x="250.40" y="305.00">Reference</text>
<text x="250.40" y="316.00">0.63 <tspan dx="2.0">(0.55; 0.72)</tspan></text>
<text x="250.40" y="327.00">0.53 <tspan dx="2.0">(0.44; 0.64)</tspan></text>
<text x="266.50" y="341.00"><tspan font-style="italic">P</tspan> = 1.72 × 10<tspan dy="-4.6" font-size="6.4">−14</tspan></text>
<text transform="translate(348.80,280.30) scale(1.08,1)" font-weight="bold" style="font-size:13.2px;stroke:#231f20;stroke-width:0.45px">d</text>
<text x="366.60" y="283.00">Thymic health</text>
<text x="433.80" y="283.00">Number</text>
<text x="530.70" y="283.00">HR</text>
<text x="611.00" y="283.00">HR</text>
<text x="644.60" y="283.00">95% CI</text>
<text x="366.60" y="305.00">Low</text>
<text x="468.00" y="305.00" text-anchor="end">645</text>
<text x="366.60" y="316.00">Average</text>
<text x="468.00" y="316.00" text-anchor="end">1,290</text>
<text x="366.60" y="327.00">High</text>
<text x="468.00" y="327.00" text-anchor="end">646</text>
<line x1="575.40" y1="297.00" x2="575.40" y2="329.50" stroke="#444" stroke-width="0.9"/>
<rect x="571.30" y="297.80" width="8.20" height="8.00" fill="#bdbdbd"/>
<ellipse cx="575.40" cy="301.80" rx="0.6" ry="1.3" fill="#222"/>
<rect x="526.52" y="308.70" width="8.20" height="8.00" fill="#bdbdbd"/>
<line x1="489.61" y1="312.50" x2="572.09" y2="312.50" stroke="#6a6a6a" stroke-width="1.0"/>
<ellipse cx="530.62" cy="312.70" rx="0.6" ry="1.3" fill="#222"/>
<rect x="471.10" y="319.80" width="7.70" height="8.00" fill="#bdbdbd"/>
<line x1="472.50" y1="323.50" x2="570.71" y2="323.50" stroke="#6a6a6a" stroke-width="1.0"/>
<path d="M472.6,323.5 L475.2,322.1 L475.2,324.9 Z" fill="#222"/>
<line x1="471.50" y1="329.50" x2="601.59" y2="329.50" stroke="#6a6a6a" stroke-width="0.9"/>
<line x1="471.43" y1="329.50" x2="471.43" y2="333.70" stroke="#6a6a6a" stroke-width="0.9"/>
<text x="471.43" y="346.00" text-anchor="middle">0.20</text>
<line x1="556.82" y1="329.50" x2="556.82" y2="333.70" stroke="#6a6a6a" stroke-width="0.9"/>
<text x="556.82" y="346.00" text-anchor="middle">0.75</text>
<line x1="575.40" y1="329.50" x2="575.40" y2="333.70" stroke="#6a6a6a" stroke-width="0.9"/>
<text x="576.90" y="346.00" text-anchor="middle">1.00</text>
<line x1="601.59" y1="329.50" x2="601.59" y2="333.70" stroke="#6a6a6a" stroke-width="0.9"/>
<text x="601.59" y="346.00" text-anchor="middle">1.50</text>
<text x="606.50" y="305.00">Reference</text>
<text x="606.50" y="316.00">0.50 <tspan dx="2.0">(0.26; 0.95)</tspan></text>
<text x="606.50" y="327.00">0.21 <tspan dx="2.0">(0.05; 0.93)</tspan></text>
<text x="636.60" y="343.00"><tspan font-style="italic">P</tspan> = 0.021</text>
<text transform="translate(-0.40,635.00) scale(1.08,1)" font-weight="bold" style="font-size:13.2px;stroke:#231f20;stroke-width:0.45px">f</text>
<text x="11.90" y="640.00">Thymic health</text>
<text x="76.90" y="640.00">Number</text>
<text x="174.40" y="640.00">HR</text>
<text x="256.00" y="640.00">HR</text>
<text x="288.70" y="640.00">95% CI</text>
<text x="11.90" y="662.00">Low</text>
<text x="110.00" y="662.00" text-anchor="end">592</text>
<text x="11.90" y="673.00">Average</text>
<text x="110.00" y="673.00" text-anchor="end">1,220</text>
<text x="11.90" y="684.00">High</text>
<text x="110.00" y="684.00" text-anchor="end">631</text>
<line x1="220.70" y1="653.80" x2="220.70" y2="687.00" stroke="#444" stroke-width="0.9"/>
<rect x="216.60" y="654.50" width="8.20" height="8.00" fill="#bdbdbd"/>
<ellipse cx="220.70" cy="658.50" rx="0.6" ry="1.3" fill="#222"/>
<rect x="205.89" y="666.00" width="8.20" height="8.00" fill="#bdbdbd"/>
<line x1="190.25" y1="670.50" x2="229.33" y2="670.50" stroke="#6a6a6a" stroke-width="1.0"/>
<ellipse cx="209.99" cy="670.00" rx="0.6" ry="1.3" fill="#222"/>
<rect x="177.20" y="677.00" width="8.20" height="8.00" fill="#bdbdbd"/>
<line x1="149.61" y1="681.50" x2="214.48" y2="681.50" stroke="#6a6a6a" stroke-width="1.0"/>
<ellipse cx="181.30" cy="681.00" rx="0.6" ry="1.3" fill="#222"/>
<line x1="114.60" y1="687.00" x2="247.42" y2="687.00" stroke="#6a6a6a" stroke-width="0.9"/>
<line x1="114.64" y1="687.00" x2="114.64" y2="691.20" stroke="#6a6a6a" stroke-width="0.9"/>
<text x="114.64" y="704.00" text-anchor="middle">0.20</text>
<line x1="201.74" y1="687.00" x2="201.74" y2="691.20" stroke="#6a6a6a" stroke-width="0.9"/>
<text x="201.74" y="704.00" text-anchor="middle">0.75</text>
<line x1="220.70" y1="687.00" x2="220.70" y2="691.20" stroke="#6a6a6a" stroke-width="0.9"/>
<text x="222.20" y="704.00" text-anchor="middle">1.00</text>
<line x1="247.42" y1="687.00" x2="247.42" y2="691.20" stroke="#6a6a6a" stroke-width="0.9"/>
<text x="247.42" y="704.00" text-anchor="middle">1.50</text>
<text x="250.90" y="662.00">Reference</text>
<text x="250.90" y="673.00">0.85 <tspan dx="2.0">(0.63; 1.14)</tspan></text>
<text x="250.90" y="684.00">0.55 <tspan dx="2.0">(0.34; 0.91)</tspan></text>
<text x="280.40" y="700.00"><tspan font-style="italic">P</tspan> = 0.051</text>
<text transform="translate(348.60,367.90) scale(1.08,1)" font-weight="bold" style="font-size:13.2px;stroke:#231f20;stroke-width:0.45px">g</text>
<text x="365.60" y="376.00">Thymic health</text>
<text x="433.80" y="376.00">Number</text>
<text x="530.70" y="376.00">HR</text>
<text x="611.00" y="376.00">HR</text>
<text x="645.00" y="376.00">95% CI</text>
<line x1="576.00" y1="388.50" x2="576.00" y2="544.00" stroke="#b3b3b3" stroke-width="2.2"/>
<text x="365.60" y="398.00">Pulmonary disease mortality</text>
<text x="365.60" y="409.00">Low</text>
<text x="470.80" y="409.00" text-anchor="end">6,256</text>
<text x="365.60" y="420.00">Average</text>
<text x="470.80" y="420.00" text-anchor="end">12,515</text>
<text x="365.60" y="431.00">High</text>
<text x="470.80" y="431.00" text-anchor="end">6,258</text>
<rect x="571.90" y="401.50" width="8.20" height="8.00" fill="#bdbdbd"/>
<ellipse cx="576.00" cy="405.50" rx="0.6" ry="1.3" fill="#222"/>
<rect x="546.27" y="413.00" width="8.20" height="8.00" fill="#bdbdbd"/>
<line x1="540.02" y1="417.50" x2="561.72" y2="417.50" stroke="#6a6a6a" stroke-width="1.0"/>
<ellipse cx="550.37" cy="417.00" rx="0.6" ry="1.3" fill="#222"/>
<rect x="532.46" y="423.70" width="8.20" height="8.00" fill="#bdbdbd"/>
<line x1="521.99" y1="427.50" x2="551.32" y2="427.50" stroke="#6a6a6a" stroke-width="1.0"/>
<ellipse cx="536.56" cy="427.70" rx="0.6" ry="1.3" fill="#222"/>
<text x="606.50" y="409.00">Reference</text>
<text x="606.50" y="420.00">0.67 <tspan dx="2.0">(0.57; 0.80)</tspan></text>
<text x="606.50" y="431.00">0.54 <tspan dx="2.0">(0.43; 0.68)</tspan></text>
<text x="621.60" y="442.00"><tspan font-style="italic">P</tspan> = 7.80 × 10<tspan dy="-4.6" font-size="6.4">−8</tspan></text>
<text x="365.60" y="454.00">End/Met/Nutr disease mortality</text>
<text x="365.60" y="465.00">Low</text>
<text x="470.80" y="465.00" text-anchor="end">6,256</text>
<text x="365.60" y="476.00">Average</text>
<text x="470.80" y="476.00" text-anchor="end">12,515</text>
<text x="365.60" y="487.00">High</text>
<text x="470.80" y="487.00" text-anchor="end">6,258</text>
<rect x="571.90" y="456.50" width="8.20" height="8.00" fill="#bdbdbd"/>
<ellipse cx="576.00" cy="460.50" rx="0.6" ry="1.3" fill="#222"/>
<rect x="549.07" y="467.90" width="8.20" height="8.00" fill="#bdbdbd"/>
<line x1="529.03" y1="471.50" x2="577.89" y2="471.50" stroke="#6a6a6a" stroke-width="1.0"/>
<ellipse cx="553.17" cy="471.90" rx="0.6" ry="1.3" fill="#222"/>
<rect x="517.89" y="479.30" width="8.20" height="8.00" fill="#bdbdbd"/>
<line x1="484.66" y1="483.50" x2="560.91" y2="483.50" stroke="#6a6a6a" stroke-width="1.0"/>
<ellipse cx="521.99" cy="483.30" rx="0.6" ry="1.3" fill="#222"/>
<text x="606.50" y="465.00">Reference</text>
<text x="606.50" y="476.00">0.70 <tspan dx="2.0">(0.48; 1.03)</tspan></text>
<text x="606.50" y="487.00">0.43 <tspan dx="2.0">(0.24; 0.79)</tspan></text>
<text x="631.30" y="497.00"><tspan font-style="italic">P</tspan> = 0.0141</text>
<text x="365.60" y="509.00">Digestive disease mortality</text>
<text x="365.60" y="520.00">Low</text>
<text x="470.80" y="520.00" text-anchor="end">6,256</text>
<text x="365.60" y="531.00">Average</text>
<text x="470.80" y="531.00" text-anchor="end">12,515</text>
<text x="365.60" y="542.00">High</text>
<text x="470.80" y="542.00" text-anchor="end">6,258</text>
<rect x="571.90" y="512.30" width="8.20" height="8.00" fill="#bdbdbd"/>
<ellipse cx="576.00" cy="516.30" rx="0.6" ry="1.3" fill="#222"/>
<rect x="534.79" y="522.80" width="8.20" height="8.00" fill="#bdbdbd"/>
<line x1="514.07" y1="526.50" x2="563.30" y2="526.50" stroke="#6a6a6a" stroke-width="1.0"/>
<ellipse cx="538.89" cy="526.80" rx="0.6" ry="1.3" fill="#222"/>
<rect x="540.27" y="533.90" width="8.20" height="8.00" fill="#bdbdbd"/>
<line x1="512.37" y1="537.50" x2="576.64" y2="537.50" stroke="#6a6a6a" stroke-width="1.0"/>
<ellipse cx="544.37" cy="537.90" rx="0.6" ry="1.3" fill="#222"/>
<text x="606.50" y="520.00">Reference</text>
<text x="606.50" y="531.00">0.56 <tspan dx="2.0">(0.38; 0.82)</tspan></text>
<text x="606.50" y="542.00">0.61 <tspan dx="2.0">(0.37; 1.01)</tspan></text>
<text x="630.90" y="553.00"><tspan font-style="italic">P</tspan> = 0.0116</text>
<line x1="471.50" y1="544.10" x2="602.36" y2="544.10" stroke="#8a8a8a" stroke-width="0.9"/>
<line x1="471.39" y1="544.10" x2="471.39" y2="548.30" stroke="#8a8a8a" stroke-width="0.9"/>
<text x="471.39" y="560.00" text-anchor="middle">0.20</text>
<line x1="557.30" y1="544.10" x2="557.30" y2="548.30" stroke="#8a8a8a" stroke-width="0.9"/>
<text x="557.30" y="560.00" text-anchor="middle">0.75</text>
<line x1="576.00" y1="544.10" x2="576.00" y2="548.30" stroke="#8a8a8a" stroke-width="0.9"/>
<text x="577.50" y="560.00" text-anchor="middle">1.00</text>
<line x1="602.36" y1="544.10" x2="602.36" y2="548.30" stroke="#8a8a8a" stroke-width="0.9"/>
<text x="602.36" y="560.00" text-anchor="middle">1.50</text>
</svg>
</body></html>
